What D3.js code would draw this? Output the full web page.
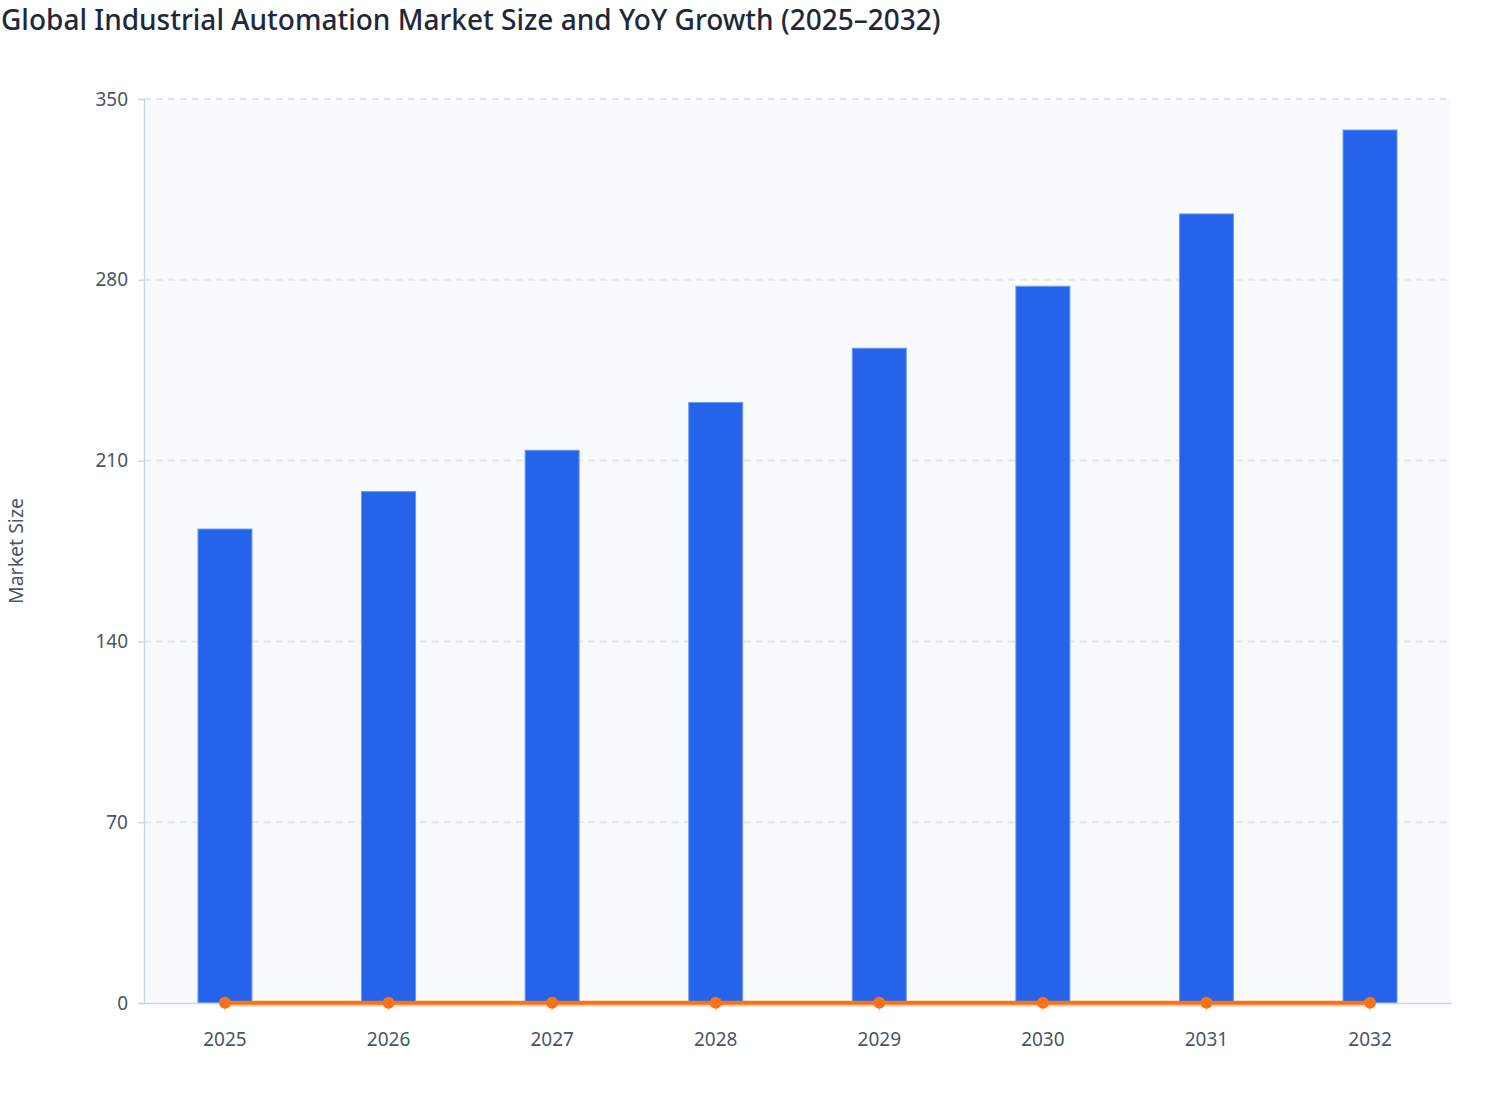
<!DOCTYPE html>
<html>
<head>
<meta charset="utf-8">
<script src="https://cdn.jsdelivr.net/npm/d3@7"></script>
<style>
  html, body { margin: 0; padding: 0; background: #ffffff; }
  body { width: 1508px; height: 1120px; overflow: hidden; }
  text { font-family: "Noto Sans", "Open Sans", sans-serif; }
</style>
</head>
<body>
<div id="chart"></div>
<script>
// chart data
const years = ["2025", "2026", "2027", "2028", "2029", "2030", "2031", "2032"];
const marketSize = [183.5, 198, 214, 232.5, 253.5, 277.5, 305.5, 338];
const yoyGrowth = [0.07, 0.079, 0.081, 0.086, 0.09, 0.095, 0.1, 0.106];
const yTicks = [0, 70, 140, 210, 280, 350];

const width = 1508;
const height = 1120;
const margin = { top: 99, right: 57, bottom: 117, left: 144 };
const innerW = width - margin.left - margin.right;
const innerH = height - margin.top - margin.bottom;

const svg = d3.select("#chart")
  .append("svg")
  .attr("width", width)
  .attr("height", height);

svg.append("text")
  .attr("x", 1)
  .attr("y", 30)
  .text("Global Industrial Automation Market Size and YoY Growth (2025–2032)")
  .style("font-size", "28px")
  .style("font-weight", "500")
  .style("fill", "#1e293b");

const g = svg.append("g")
  .attr("transform", `translate(${margin.left},${margin.top})`);

const x = d3.scaleBand()
  .domain(years)
  .range([0, innerW])
  .paddingInner(0.67)
  .paddingOuter(0.33);

const y = d3.scaleLinear()
  .domain([0, 350])
  .range([innerH, 0]);

// plot background
g.append("rect")
  .attr("width", innerW)
  .attr("height", innerH)
  .attr("fill", "#f8fafc");

// dashed grid
g.append("g")
  .selectAll("line")
  .data(yTicks.filter(d => d > 0))
  .join("line")
  .attr("x1", 0)
  .attr("x2", innerW)
  .attr("y1", d => y(d))
  .attr("y2", d => y(d))
  .attr("stroke", "#e2e6ee")
  .attr("stroke-width", 2)
  .attr("stroke-dasharray", "7,5");

// bars
g.append("g")
  .selectAll("rect")
  .data(marketSize)
  .join("rect")
  .attr("x", (d, i) => x(years[i]))
  .attr("y", d => y(d))
  .attr("width", x.bandwidth())
  .attr("height", d => innerH - y(d))
  .attr("fill", "#2563eb")
  .attr("stroke", "#6b9cf5")
  .attr("stroke-width", 1);

// axes
const yAxis = g.append("g")
  .call(d3.axisLeft(y).tickValues(yTicks).tickSize(6).tickPadding(10));
const xAxis = g.append("g")
  .attr("transform", `translate(0,${innerH})`)
  .call(d3.axisBottom(x).tickSize(8).tickPadding(22).tickSizeOuter(0));

[yAxis, xAxis].forEach(ax => {
  ax.select(".domain").attr("stroke", "#cbd5f0").attr("stroke-width", 1.5);
  ax.selectAll(".tick line").attr("stroke", "#cbd5f0").attr("stroke-width", 1.5);
  ax.selectAll(".tick text")
    .style("font-size", "19px")
    .style("fill", "#4b5563")
    .style("font-family", "'Noto Sans', 'Open Sans', sans-serif");
});
xAxis.selectAll(".tick line").attr("y1", 3);

// YoY growth line (same axis)
const line = d3.line()
  .x((d, i) => x(years[i]) + x.bandwidth() / 2)
  .y(d => y(d));

g.append("path")
  .datum(yoyGrowth)
  .attr("d", line)
  .attr("transform", "translate(0,2)")
  .attr("fill", "none")
  .attr("stroke", "#fcd5bd")
  .attr("stroke-width", 4);

g.append("path")
  .datum(yoyGrowth)
  .attr("d", line)
  .attr("fill", "none")
  .attr("stroke", "#f97316")
  .attr("stroke-width", 4);

g.append("g")
  .selectAll("circle")
  .data(yoyGrowth)
  .join("circle")
  .attr("cx", (d, i) => x(years[i]) + x.bandwidth() / 2)
  .attr("cy", d => y(d))
  .attr("r", 6)
  .attr("fill", "#f97316");

// y label
svg.append("text")
  .attr("transform", `translate(23,${margin.top + innerH / 2}) rotate(-90)`)
  .attr("text-anchor", "middle")
  .text("Market Size")
  .style("font-size", "19.5px")
  .style("fill", "#4b5563");
</script>
</body>
</html>
